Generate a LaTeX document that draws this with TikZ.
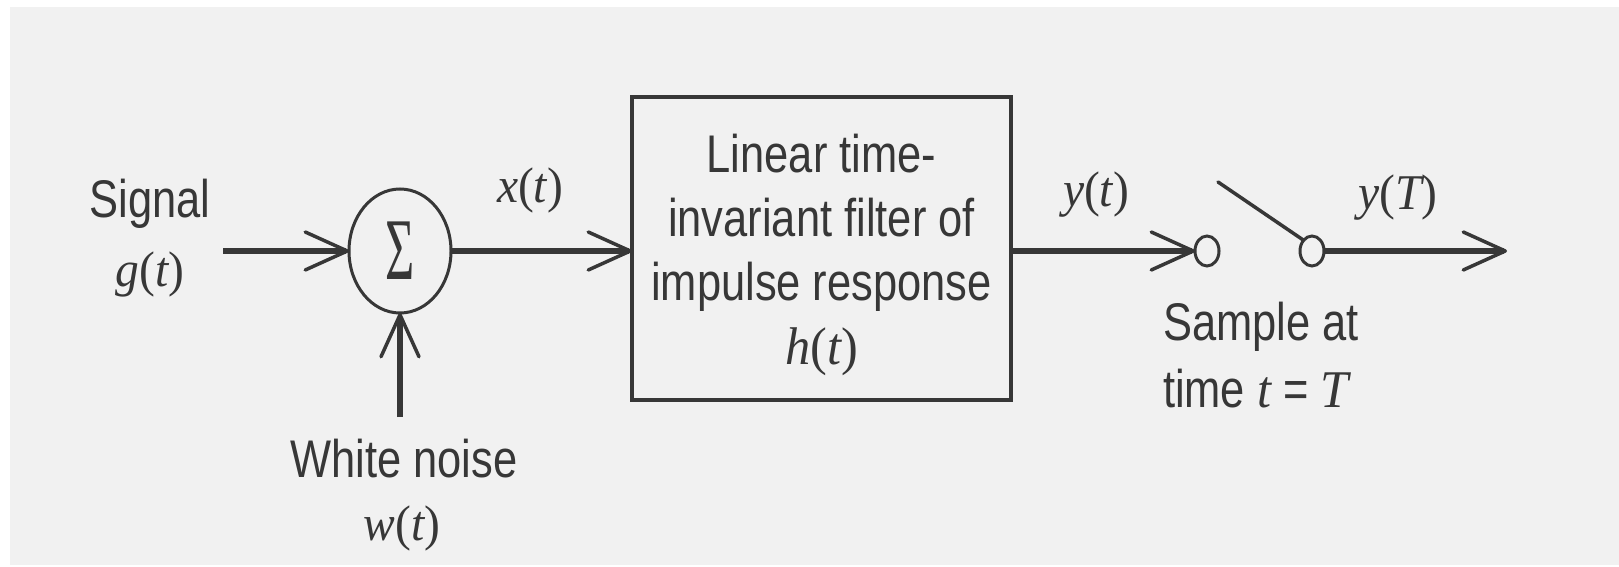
\documentclass[tikz,border=0pt]{standalone}
\usepackage{fontspec}
\usepackage{graphicx}
\setmainfont{Liberation Sans}[FakeStretch=0.82]
\newfontfamily\varfont{Liberation Serif}[FakeStretch=0.95]
\usetikzlibrary{arrows.meta,shapes.geometric}
\definecolor{paper}{RGB}{241,241,241}
\definecolor{ink}{RGB}{55,55,55}
% italic variable and f(t)-style function label
\newcommand\vv[1]{{\varfont\itshape #1}}
\newcommand\fnof[2]{\vv{#1}{\varfont(}\vv{#2}{\varfont)}}

\begin{document}
\begin{tikzpicture}[x=1pt,y=-1pt,
  every node/.style={inner sep=0pt, outer sep=0pt, text=ink},
  txt/.style={font=\fontsize{53}{64}\selectfont, anchor=base},
  mlbl/.style={font=\fontsize{50}{60}\selectfont, anchor=base},
  flow/.style={draw=ink, line width=5.5pt,
    -{Straight Barb[length=42pt,width=38pt,line width=3.5pt,round]}},
  wire/.style={draw=ink, line width=3.5pt, line cap=round},
  summer/.style={ellipse, draw=ink, line width=3pt, minimum width=102pt, minimum height=124pt},
  terminal/.style={ellipse, draw=ink, line width=3pt, minimum width=24pt, minimum height=30pt},
  filterbox/.style={rectangle, draw=ink, line width=3.5pt, minimum width=379pt, minimum height=303pt},
  boxtext/.style={font=\fontsize{53}{64}\selectfont, align=center}
]
% page
\fill[white] (0,0) rectangle (1619,567);
\fill[paper] (10,7) rectangle (1619,565);
\useasboundingbox (0,0) rectangle (1619,567);

% blocks
\node[summer] (sum) at (400,251) {\scalebox{0.6}[1]{\fontsize{88}{88}\varfont Σ}};
\node[filterbox] (ltif) at (821.5,248.5) {};
\node[boxtext] (ltitxt) at (821.5,255) {Linear time-\\invariant filter of\\impulse response\\\fnof{h}{t}};
\node[terminal] (sw1) at (1207,251) {};
\node[terminal] (sw2) at (1312,251) {};

% free ends
\coordinate (gin) at (223,251);
\coordinate (win) at (400,417);
\coordinate (lever) at (1218,182);
\coordinate (yout) at (1507,251);

% labels
\node[txt] (siglbl) at (150,217) {Signal};
\node[mlbl] (glbl) at (150,286) {\fnof{g}{t}};
\node[mlbl] (xlbl) at (530,202) {\fnof{x}{t}};
\node[mlbl] (ylbl) at (1096,206) {\fnof{y}{t}};
\node[mlbl] (yTlbl) at (1398,209) {\fnof{y}{T}};
\node[txt] (wnlbl) at (404,477) {White noise};
\node[mlbl] (wlbl) at (402,540) {\fnof{w}{t}};
\node[txt, anchor=base west] (samp1) at (1163,340) {Sample at};
\node[txt, anchor=base west] (samp2) at (1163,407) {time \vv{t} = \vv{T}};

% connectors
\draw[flow] (gin) -- (sum.west);
\draw[flow] (win) -- (sum.south);
\draw[flow] (sum.east) -- (sum.east -| ltif.west);
\draw[flow] (ltif.east |- sw1.west) -- (sw1.west);
\draw[wire] (lever) -- (sw2.128);
\draw[flow] (sw2.east) -- (yout);
\end{tikzpicture}
\end{document}
